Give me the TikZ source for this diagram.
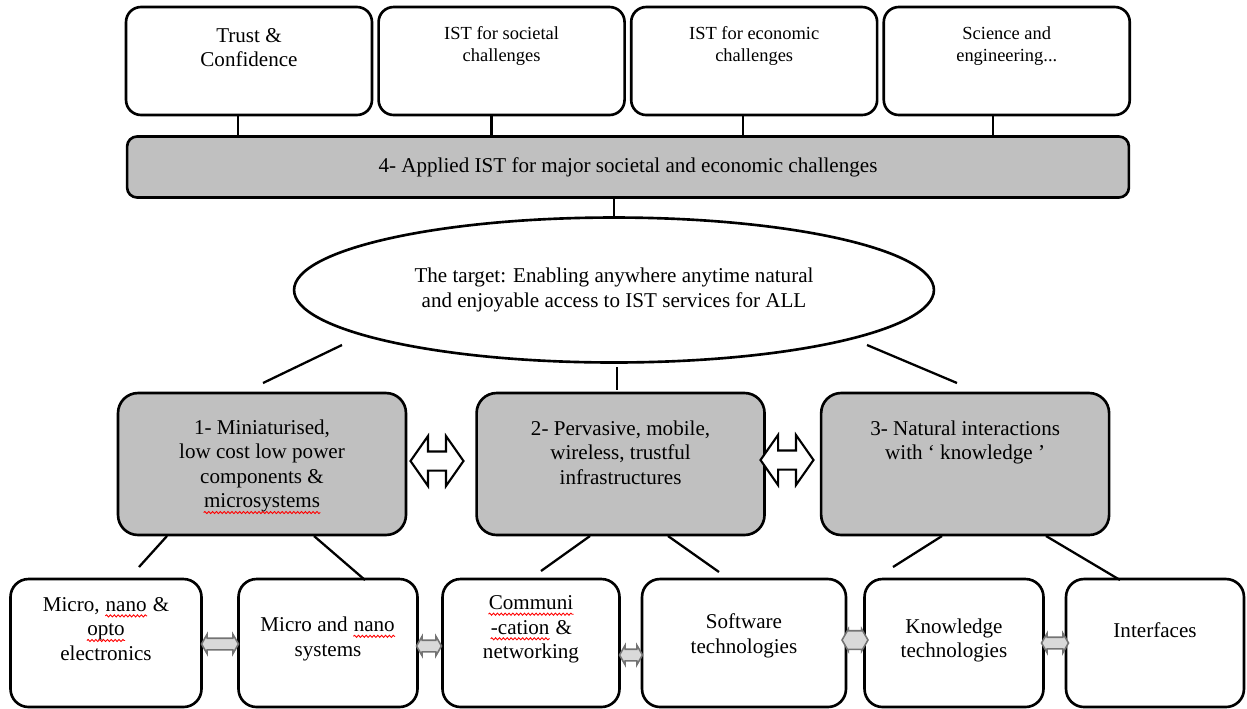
\documentclass[tikz,border=0pt]{standalone}
\usepackage{fontspec}
\setmainfont{Liberation Serif}
\usetikzlibrary{positioning,shapes.geometric,shapes.arrows,decorations.pathmorphing}

\definecolor{panelgray}{RGB}{192,192,192}
\definecolor{linkgray}{RGB}{217,217,217}
\definecolor{rimgray}{RGB}{115,115,115}

% red wavy underline, as a spell checker draws it
\newcommand{\spellmark}[1]{\tikz[baseline = (w.base)]{\node[inner sep = 0pt] (w) {#1};
    \draw[red, line width = 0.5pt, decorate, decoration = {snake, amplitude = 0.6pt, segment length = 2.2pt}]
    ([yshift = -2.6pt]w.base west) -- ([yshift = -2.6pt]w.base east);}}

\begin{document}
\begin{tikzpicture}[
    x = 0.02cm, % one unit is one pixel of the sketch
    y = -0.02cm, % y runs downwards
    line width = 1.5pt, % outline of every box
    font = \fontsize{12}{14}\selectfont
    ]

    \tikzset{
    topbox/.style = {draw, rounded corners = 0.3cm, minimum width = 4.92cm, minimum height = 2.16cm},
    midbox/.style = {draw, fill = panelgray, rounded corners = 0.4cm, minimum width = 5.76cm, minimum height = 2.84cm},
    lowbox/.style = {draw, rounded corners = 0.36cm, minimum height = 2.56cm},
    txt/.style = {align = center, inner sep = 0pt},
    smalltxt/.style = {txt, font = \fontsize{10.5}{12.5}\selectfont},
    link/.style = {line width = 1.3pt},
    bigarrow/.style = {double arrow, draw, fill = white, line width = 1.2pt,
        inner xsep = 0.05cm, inner ysep = 0.17cm, double arrow head extend = 0.31cm,
        double arrow tip angle = 110, minimum height = 1.06cm},
    smallarrow/.style = {double arrow, draw = rimgray, fill = linkgray, line width = 0.9pt,
        inner xsep = 0.05cm, inner ysep = 0.1cm, double arrow head extend = 0.08cm,
        double arrow tip angle = 120}
    }

    \useasboundingbox (0,0) rectangle (1247,708);

    % top row
    \node[topbox] (t1) at (249,61) {};
    \node[topbox] (t2) [right = 0.08cm of t1] {};
    \node[topbox] (t3) [right = 0.08cm of t2] {};
    \node[topbox] (t4) [right = 0.08cm of t3] {};
    \node[txt] (t1txt) [below = 0.42cm of t1.north] {Trust \&\\Confidence};
    \node[smalltxt] (t2txt) [below = 0.39cm of t2.north] {IST for societal\\challenges};
    \node[smalltxt] (t3txt) [below = 0.39cm of t3.north] {IST for economic\\challenges};
    \node[smalltxt] (t4txt) [below = 0.39cm of t4.north] {Science and\\engineering...};

    \node[draw, fill = panelgray, rounded corners = 0.2cm, minimum width = 20.04cm, minimum height = 1.22cm] (bar) at (628,167) {4- Applied IST for major societal and economic challenges};

    \coordinate (k1) at ([xshift = -0.22cm]t1.south);
    \coordinate (k2) at ([xshift = -0.2cm]t2.south);
    \coordinate (k3) at ([xshift = -0.22cm]t3.south);
    \coordinate (k4) at ([xshift = -0.28cm]t4.south);
    \draw[link] (k1) -- (k1 |- bar.north);
    \draw[link] (k2) -- (k2 |- bar.north);
    \draw[link] (k3) -- (k3 |- bar.north);
    \draw[link] (k4) -- (k4 |- bar.north);

    % the target
    \node[draw, ellipse, minimum width = 12.8cm, minimum height = 2.9cm, align = center] (target) at (614,290) {The target: Enabling anywhere anytime natural\\and enjoyable access to IST services for ALL};
    \draw[link] (bar.south -| target.north) -- (target.north);

    % the three areas
    \node[midbox] (m1) at (262,464) {};
    \node[midbox] (m2) [right = 1.36cm of m1] {};
    \node[midbox] (m3) [right = 1.08cm of m2] {};
    \node[txt] (m1txt) [below = 0.55cm of m1.north] {1- Miniaturised,\\low cost low power\\components \&\\\spellmark{microsystems}};
    \node[txt] (m2txt) [below = 0.55cm of m2.north] {2- Pervasive, mobile,\\wireless, trustful\\infrastructures};
    \node[txt] (m3txt) [below = 0.55cm of m3.north] {3- Natural interactions\\with ‘ knowledge ’};

    \node[bigarrow] (a12) at (437,461) {};
    \node[bigarrow] (a23) at (787,460) {};

    \coordinate (e1) at (342,345);
    \coordinate (e2) at (263,383);
    \coordinate (e3) at (617,367);
    \coordinate (e4) at (617,390);
    \coordinate (e5) at (867,345);
    \coordinate (e6) at (957,383);
    \draw[link] (e1) -- (e2);
    \draw[line width = 0.6pt] (e3) -- (e4);
    \draw[link] (e5) -- (e6);

    % bottom row
    \node[lowbox, minimum width = 3.82cm] (b1) at (106,643) {};
    \node[lowbox, minimum width = 3.58cm] (b2) at (328,643) {};
    \node[lowbox, minimum width = 3.54cm] (b3) at (531,643) {};
    \node[lowbox, minimum width = 4.08cm] (b4) at (744,643) {};
    \node[lowbox, minimum width = 3.58cm] (b5) at (954,643) {};
    \node[lowbox, minimum width = 3.56cm] (b6) at (1155,643) {};
    \node[txt] (b1txt) at ([yshift = 0.28cm]b1.center) {Micro, \spellmark{nano} \&\\\spellmark{opto}\\electronics};
    \node[txt] (b2txt) at ([yshift = 0.08cm]b2.center) {Micro and \spellmark{nano}\\systems};
    \node[txt] (b3txt) at ([yshift = 0.27cm]b3.center) {\spellmark{Communi}\\\spellmark{-cation} \&\\networking};
    \node[txt] (b4txt) at ([yshift = 0.14cm]b4.center) {Software\\technologies};
    \node[txt] (b5txt) at ([yshift = 0.05cm]b5.center) {Knowledge\\technologies};
    \node[txt] (b6txt) at ([yshift = 0.26cm]b6.center) {Interfaces};

    \node[smallarrow, minimum height = 0.74cm] (s12) at (220,644) {};
    \node[smallarrow, minimum height = 0.5cm] (s23) at (429,646) {};
    \node[smallarrow, minimum height = 0.46cm] (s34) at (631,655) {};
    \node[smallarrow, minimum height = 0.52cm, inner ysep = 0.17cm, double arrow head extend = 0.03cm] (s45) at (855,640) {};
    \node[smallarrow, minimum height = 0.54cm] (s56) at (1055,643) {};

    \coordinate (d1) at (167,536);
    \coordinate (d2) at (139,567);
    \coordinate (d3) at (314,536);
    \coordinate (d4) at (365,580);
    \coordinate (d5) at (590,536);
    \coordinate (d6) at (541,571);
    \coordinate (d7) at (668,536);
    \coordinate (d8) at (719,572);
    \coordinate (d9) at (942,536);
    \coordinate (d10) at (893,567);
    \coordinate (d11) at (1046,536);
    \coordinate (d12) at (1120,580);
    \draw[link] (d1) -- (d2);
    \draw[link] (d3) -- (d4);
    \draw[link] (d5) -- (d6);
    \draw[link] (d7) -- (d8);
    \draw[link] (d9) -- (d10);
    \draw[link] (d11) -- (d12);
\end{tikzpicture}
\end{document}
